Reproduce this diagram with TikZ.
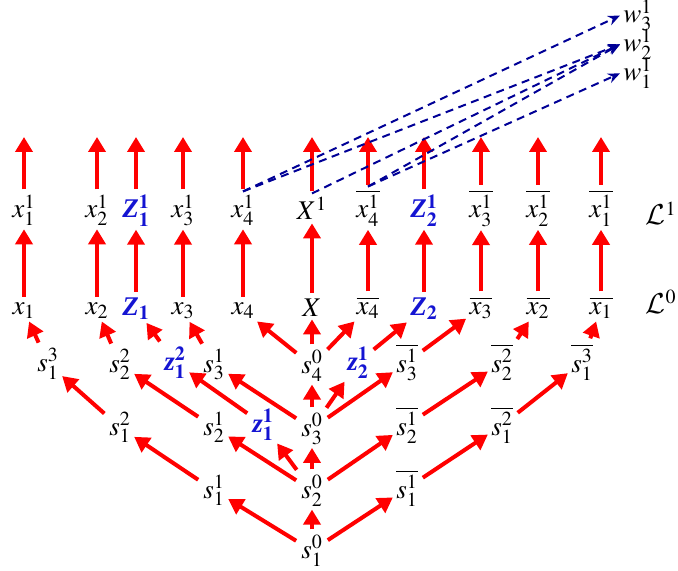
\documentclass[tikz,border=0pt]{standalone}
\usepackage{mathptmx}
\usepackage{fontspec}
\setmainfont{Liberation Serif}
\usetikzlibrary{arrows.meta}
\DeclareMathAlphabet{\mathcal}{OMS}{cmsy}{m}{n}
\definecolor{zblue}{RGB}{20,20,210}
\definecolor{wnavy}{RGB}{0,0,150}
\newcommand{\bZ}{\textbf{\textit{Z}}}
\newcommand{\bz}{\textbf{\textit{z}}}

\begin{document}
\begin{tikzpicture}[x=0.5pt,y=-0.5pt,font=\fontsize{13.5}{16}\selectfont,
  lbl/.style={anchor=base,inner sep=1.5pt},
  blu/.style={lbl,text=zblue},
  arr/.style={->,>={Triangle[width=8.5pt,length=7.5pt]},red,line width=2pt,shorten <=1pt},
  dsh/.style={->,>={Stealth[length=6pt,width=5pt]},wnavy,line width=1pt,dash pattern=on 4pt off 2.8pt}]
  \useasboundingbox (0,0) rectangle (678,571);
  % --- level L^1 ---
  \node[lbl] (x11) at (24,218) {$x_1^1$};
  \node[lbl] (x21) at (97,218) {$x_2^1$};
  \node[blu] (Z11) at (136,218) {\bZ$_{\mathbf{1}}^{\mathbf{1}}$};
  \node[lbl] (x31) at (183,218) {$x_3^1$};
  \node[lbl] (x41) at (243,218) {$x_4^1$};
  \node[lbl] (X1) at (312,220) {$X^1$};
  \node[lbl] (ox41) at (368,218) {$\overline{x_4^1}$};
  \node[blu] (Z21) at (424,218) {\bZ$_{\mathbf{2}}^{\mathbf{1}}$};
  \node[lbl] (ox31) at (481,218) {$\overline{x_3^1}$};
  \node[lbl] (ox21) at (538,218) {$\overline{x_2^1}$};
  \node[lbl] (ox11) at (601,218) {$\overline{x_1^1}$};
  \node[lbl,anchor=base east] (L1) at (680,225) {$\mathcal{L}^1$};
  % --- level L^0 ---
  \node[lbl] (x1) at (24,314) {$x_1$};
  \node[lbl] (x2) at (97,314) {$x_2$};
  \node[blu] (Z1) at (136,315) {\bZ$_{\mathbf{1}}$};
  \node[lbl] (x3) at (183,314) {$x_3$};
  \node[lbl] (x4) at (243,314) {$x_4$};
  \node[lbl] (X) at (312,316) {$X$};
  \node[lbl] (ox4) at (368,314) {$\overline{x_4}$};
  \node[blu] (Z2) at (424,315) {\bZ$_{\mathbf{2}}$};
  \node[lbl] (ox3) at (481,314) {$\overline{x_3}$};
  \node[lbl] (ox2) at (538,314) {$\overline{x_2}$};
  \node[lbl] (ox1) at (601,314) {$\overline{x_1}$};
  \node[lbl,anchor=base east] (L0) at (680,313) {$\mathcal{L}^0$};
  % --- s tree ---
  \node[lbl] (s10) at (312,558) {$s_1^0$};
  \node[lbl] (s20) at (312,498) {$s_2^0$};
  \node[lbl] (s30) at (312,436) {$s_3^0$};
  \node[lbl] (s40) at (312,373) {$s_4^0$};
  \node[lbl] (s11) at (214,498) {$s_1^1$};
  \node[lbl] (s21) at (214,435) {$s_2^1$};
  \node[lbl] (s31) at (214,372) {$s_3^1$};
  \node[lbl] (s12) at (120,435) {$s_1^2$};
  \node[lbl] (s22) at (120,372) {$s_2^2$};
  \node[lbl] (s13) at (48,371) {$s_1^3$};
  \node[blu] (z11) at (263,432) {\bz$_{\mathbf{1}}^{\mathbf{1}}$};
  \node[blu] (z12) at (175,370) {\bz$_{\mathbf{1}}^{\mathbf{2}}$};
  \node[blu] (z21) at (358,370) {\bz$_{\mathbf{2}}^{\mathbf{1}}$};
  \node[lbl] (os11) at (407,498) {$\overline{s_1^1}$};
  \node[lbl] (os21) at (407,435) {$\overline{s_2^1}$};
  \node[lbl] (os31) at (407,372) {$\overline{s_3^1}$};
  \node[lbl] (os12) at (502,435) {$\overline{s_1^2}$};
  \node[lbl] (os22) at (502,372) {$\overline{s_2^2}$};
  \node[lbl] (os13) at (582,372) {$\overline{s_1^3}$};
  % --- w targets ---
  \node[lbl,anchor=base west] (w3) at (620,23) {$w_3^1$};
  \node[lbl,anchor=base west] (w2) at (620,52) {$w_2^1$};
  \node[lbl,anchor=base west] (w1) at (620,81) {$w_1^1$};
  % free ends of the top arrows
  \coordinate (t1) at (24,137); \coordinate (t2) at (97,137); \coordinate (t3) at (136,137);
  \coordinate (t4) at (183,137); \coordinate (t5) at (243,137); \coordinate (t6) at (312,137);
  \coordinate (t7) at (368,137); \coordinate (t8) at (424,137); \coordinate (t9) at (481,137);
  \coordinate (t10) at (538,137); \coordinate (t11) at (601,137);
  % tree arrows
  \draw[arr] (s10) -- (s20); \draw[arr] (s10) -- (s11); \draw[arr] (s10) -- (os11);
  \draw[arr] (s20) -- (s30); \draw[arr] (s20) -- (s21); \draw[arr] (s20) -- (z11); \draw[arr] (s20) -- (os21);
  \draw[arr] (s30) -- (s40); \draw[arr] (s30) -- (s31); \draw[arr] (s30) -- (z21); \draw[arr] (s30) -- (os31);
  \draw[arr] (s40) -- (X); \draw[arr] (s40) -- (x4); \draw[arr] (s40) -- (ox4);
  \draw[arr] (s11) -- (s12); \draw[arr] (s12) -- (s13); \draw[arr] (s13) -- (x1);
  \draw[arr] (s21) -- (s22); \draw[arr] (s22) -- (x2); \draw[arr] (s31) -- (x3);
  \draw[arr] (z11) -- (z12); \draw[arr] (z12) -- (Z1); \draw[arr] (z21) -- (Z2);
  \draw[arr] (os11) -- (os12); \draw[arr] (os12) -- (os13); \draw[arr] (os13) -- (ox1);
  \draw[arr] (os21) -- (os22); \draw[arr] (os22) -- (ox2); \draw[arr] (os31) -- (ox3);
  % L^0 -> L^1
  \draw[arr] (x1) -- (x11); \draw[arr] (x2) -- (x21); \draw[arr] (Z1) -- (Z11);
  \draw[arr] (x3) -- (x31); \draw[arr] (x4) -- (x41); \draw[arr] (X) -- (X1);
  \draw[arr] (ox4) -- (ox41); \draw[arr] (Z2) -- (Z21); \draw[arr] (ox3) -- (ox31);
  \draw[arr] (ox2) -- (ox21); \draw[arr] (ox1) -- (ox11);
  % L^1 -> up
  \draw[arr] (x11) -- (t1); \draw[arr] (x21) -- (t2); \draw[arr] (Z11) -- (t3);
  \draw[arr] (x31) -- (t4); \draw[arr] (x41) -- (t5); \draw[arr] (X1) -- (t6);
  \draw[arr] (ox41) -- (t7); \draw[arr] (Z21) -- (t8); \draw[arr] (ox31) -- (t9);
  \draw[arr] (ox21) -- (t10); \draw[arr] (ox11) -- (t11);
  % dashed links to w
  \draw[dsh] (x41.north) -- (w3.west);
  \draw[dsh] (x41.north) -- (w2.west);
  \draw[dsh] (X1.north) -- (w2.west);
  \draw[dsh] (ox41.north) -- (w2.west);
  \draw[dsh] (ox41.north) -- (w1.west);
\end{tikzpicture}
\end{document}
